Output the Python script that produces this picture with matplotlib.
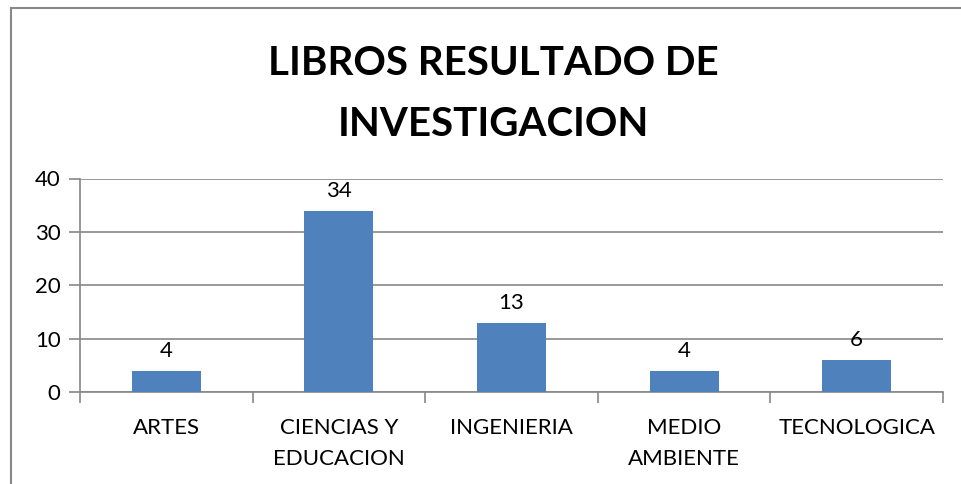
import numpy as np
import matplotlib.pyplot as plt
from matplotlib.patches import Rectangle

categories = ["ARTES", "CIENCIAS Y\nEDUCACION", "INGENIERIA", "MEDIO\nAMBIENTE", "TECNOLOGICA"]
values = [4, 34, 13, 4, 6]
y_ticks = [0, 10, 20, 30, 40]
title = "LIBROS RESULTADO DE\nINVESTIGACION"

BAR = "#4F81BD"
GRID = "#888888"
FONT = ["Lato", "DejaVu Sans"]

plt.rcParams["font.family"] = FONT

fig = plt.figure(figsize=(9.61, 4.84), dpi=100)
fig.patches.append(Rectangle((11 / 961, -0.2), 1.2, 1.2 - 8 / 484 + 0.0,
                             transform=fig.transFigure, fill=False,
                             edgecolor=GRID, linewidth=1.5))

ax = fig.add_axes([80 / 961, 1 - 392 / 484, (943 - 80) / 961, (392 - 178.5) / 484])
x = np.arange(len(categories))
ax.bar(x, values, width=0.4, color=BAR, zorder=3)

for xi, v in zip(x, values):
    ax.annotate(str(v), (xi, v), xytext=(0, 7), textcoords="offset points",
                ha="center", va="bottom", fontsize=16, color="black")

ax.set_xlim(-0.5, len(categories) - 0.5)
ax.set_ylim(0, 40)
ax.set_yticks(y_ticks)
ax.set_yticklabels([str(t) for t in y_ticks], fontsize=16)
ax.yaxis.grid(True, color=GRID, linewidth=1.2, zorder=0)
ax.tick_params(axis="y", length=8, width=1.2, color=GRID, pad=6)

ax.set_xticks(np.arange(-0.5, len(categories), 1.0))
ax.set_xticklabels([])
ax.tick_params(axis="x", which="major", length=8, width=1.2, color=GRID)
ax.set_xticks(x, minor=True)
ax.set_xticklabels(categories, minor=True, fontsize=16, linespacing=1.65)
ax.tick_params(axis="x", which="minor", length=0, pad=19)

for s in ["top", "right"]:
    ax.spines[s].set_visible(False)
for s in ["left", "bottom"]:
    ax.spines[s].set_color(GRID)
    ax.spines[s].set_linewidth(1.2)

fig.text(0.513, 1 - 94 / 484, title, ha="center", va="center",
         fontsize=29, fontweight="bold", linespacing=1.8)

fig.savefig("out.png", dpi=100)
